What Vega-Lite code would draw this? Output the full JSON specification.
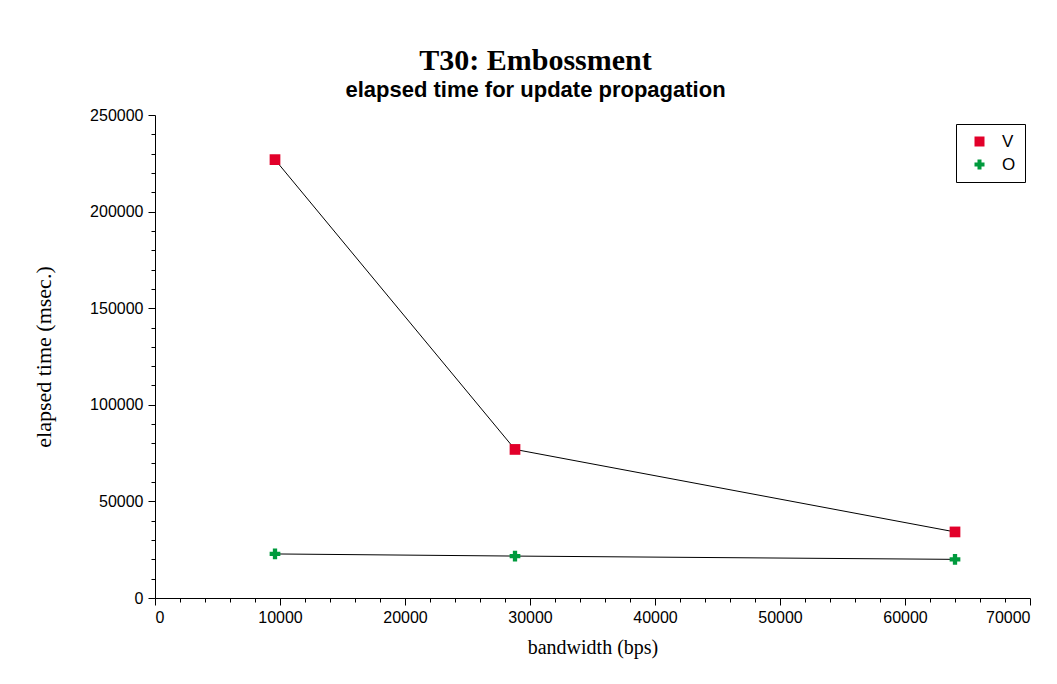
{
  "$schema": "https://vega.github.io/schema/vega-lite/v6.json",
  "autosize": {"type": "none"},
  "padding": {"left": 155, "top": 115, "right": 27, "bottom": 86},
  "width": 875,
  "height": 483,
  "background": "white",
  "title": {
    "text": "T30: Embossment",
    "subtitle": "elapsed time for update propagation",
    "anchor": "middle",
    "dx": -57,
    "offset": 6,
    "font": "Liberation Serif",
    "fontSize": 30,
    "fontWeight": "bold",
    "color": "black",
    "subtitleFont": "Liberation Sans",
    "subtitleFontSize": 22,
    "subtitleFontWeight": "bold",
    "subtitleColor": "black",
    "subtitlePadding": 4
  },
  "config": {
    "view": {"stroke": null},
    "axis": {
      "grid": false,
      "domainColor": "black",
      "tickColor": "black",
      "labelColor": "black",
      "titleColor": "black",
      "labelFont": "Liberation Sans",
      "labelFontSize": 16,
      "titleFont": "Liberation Serif",
      "titleFontWeight": "normal",
      "labelOverlap": false
    }
  },
  "data": {
    "values": [
      {"bandwidth": 9600, "time": 226900, "series": "V"},
      {"bandwidth": 28800, "time": 76900, "series": "V"},
      {"bandwidth": 64000, "time": 34200, "series": "V"},
      {"bandwidth": 9600, "time": 22800, "series": "O"},
      {"bandwidth": 28800, "time": 21700, "series": "O"},
      {"bandwidth": 64000, "time": 20000, "series": "O"}
    ]
  },
  "encoding": {
    "x": {
      "field": "bandwidth",
      "type": "quantitative",
      "title": "bandwidth (bps)",
      "scale": {"domain": [0, 70000], "nice": false, "zero": false},
      "axis": {
        "values": [0,2000,4000,6000,8000,10000,12000,14000,16000,18000,20000,22000,24000,26000,28000,30000,32000,34000,36000,38000,40000,42000,44000,46000,48000,50000,52000,54000,56000,58000,60000,62000,64000,66000,68000,70000],
        "format": "d",
        "labelExpr": "datum.value % 10000 === 0 ? datum.label : ''",
        "tickSize": {"condition": {"test": "datum.value % 10000 === 0", "value": 7}, "value": 4},
        "labelPadding": 4,
        "titleFontSize": 20,
        "titlePadding": 12
      }
    },
    "y": {
      "field": "time",
      "type": "quantitative",
      "title": "elapsed time (msec.)",
      "scale": {"domain": [0, 250000], "nice": false},
      "axis": {
        "values": [0,10000,20000,30000,40000,50000,60000,70000,80000,90000,100000,110000,120000,130000,140000,150000,160000,170000,180000,190000,200000,210000,220000,230000,240000,250000],
        "format": "d",
        "labelExpr": "datum.value % 50000 === 0 ? datum.label : ''",
        "tickSize": {"condition": {"test": "datum.value % 50000 === 0", "value": 7}, "value": 4},
        "labelPadding": 5,
        "titleFontSize": 22,
        "titlePadding": 34
      }
    }
  },
  "layer": [
    {
      "mark": {"type": "line", "color": "black", "strokeWidth": 1},
      "encoding": {"detail": {"field": "series"}}
    },
    {
      "mark": {"type": "point", "filled": true, "size": 115, "opacity": 1},
      "encoding": {
        "color": {
          "field": "series",
          "type": "nominal",
          "scale": {"domain": ["V", "O"], "range": ["#e2002a", "#009a3d"]},
          "legend": {
            "title": null,
            "orient": "none",
            "legendX": 801,
            "legendY": 9,
            "padding": 9,
            "strokeColor": "black",
            "fillColor": "white",
            "labelFont": "Liberation Sans",
            "labelFontSize": 17,
            "labelColor": "black",
            "symbolSize": 100,
            "symbolOffset": 6,
            "labelOffset": 14,
            "rowPadding": 5,
            "offset": 0
          }
        },
        "shape": {
          "field": "series",
          "type": "nominal",
          "scale": {"domain": ["V", "O"], "range": ["square", "cross"]}
        }
      }
    }
  ]
}
